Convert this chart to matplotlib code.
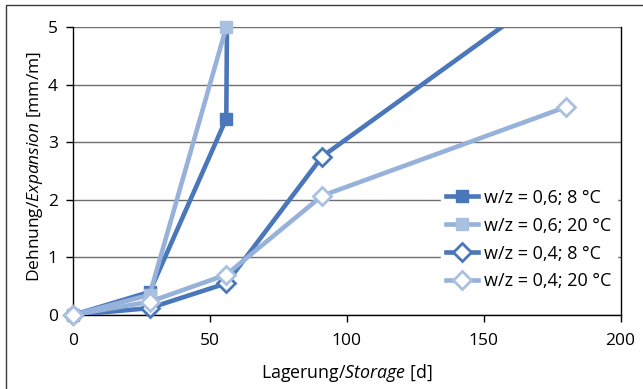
import matplotlib
matplotlib.use("Agg")
import matplotlib.pyplot as plt
from matplotlib.patches import Rectangle
import numpy as np

plt.rcParams['font.family'] = ['Open Sans', 'DejaVu Sans']
plt.rcParams['mathtext.fontset'] = 'custom'
plt.rcParams['mathtext.rm'] = 'Open Sans'
plt.rcParams['mathtext.it'] = 'Open Sans:italic'

# data
days_w06_8 = [0, 28, 56, 57]
exp_w06_8 = [0, 0.40, 3.41, 10.0]
days_w06_20 = [0, 28, 56]
exp_w06_20 = [0, 0.35, 5.0]
days_w04_8 = [0, 28, 56, 91, 180]
exp_w04_8 = [0, 0.12, 0.55, 2.75, 5.80]
days_w04_20 = [0, 28, 56, 91, 180]
exp_w04_20 = [0, 0.23, 0.70, 2.07, 3.61]

labels = ['w/z = 0,6; 8 °C', 'w/z = 0,6; 20 °C', 'w/z = 0,4; 8 °C', 'w/z = 0,4; 20 °C']
x_ticks = [0, 50, 100, 150, 200]
y_ticks = [0, 1, 2, 3, 4, 5]

dark = '#4A77B9'
light = '#97B2DA'
light_sq = '#A9C0E0'

fig = plt.figure(figsize=(6.43, 3.89), dpi=100)
ax = fig.add_axes([73/643, 1-315/389, (620.5-73)/643, (315-27)/389])

series = [
    (days_w06_8, exp_w06_8, dark, 's', dark, dark),
    (days_w06_20, exp_w06_20, light, 's', light_sq, light_sq),
    (days_w04_8, exp_w04_8, dark, 'D', 'white', dark),
    (days_w04_20, exp_w04_20, light, 'D', 'white', light_sq),
]

handles = []
for i, (xs, ys, col, mk, mfc, mec) in enumerate(series):
    xs = np.array(xs); ys = np.array(ys)
    z = 3 + i
    ax.plot(xs, ys, color=col, lw=3.3, zorder=z, clip_on=True, solid_capstyle='butt')
    m = ys <= 5.0
    ms = 8.5 if mk == 's' else 9.3
    mew = 2 if mk == 'D' else 1
    ax.plot(xs[m], ys[m], ls='none', marker=mk, ms=ms, mfc=mfc, mec=mec,
            mew=mew, zorder=z + 0.5, clip_on=False)
    h, = ax.plot([], [], color=col, lw=3.3, marker=mk, ms=ms, mfc=mfc, mec=mec,
                 mew=mew, label=labels[i])
    handles.append(h)

ax.set_xlim(0, 200)
ax.set_ylim(0, 5)
ax.set_xticks(x_ticks)
ax.set_yticks(y_ticks)
ax.tick_params(axis='both', direction='out', length=5, width=1, color='black',
               labelsize=12.5)
ax.tick_params(axis='x', pad=8)
ax.tick_params(axis='y', pad=6)
ax.yaxis.grid(True, color='#6e6e6e', lw=1)
ax.set_axisbelow(True)
ax.spines['top'].set_visible(False)
for s in ['left', 'bottom', 'right']:
    ax.spines[s].set_color('black')
    ax.spines[s].set_linewidth(1)

ax.set_xlabel('Lagerung/$\\mathit{Storage}$ [d]', fontsize=12.8, labelpad=9)
ax.set_ylabel('Dehnung/$\\mathit{Expansion}$ [mm/m]', fontsize=12.5)
ax.yaxis.set_label_coords(-0.051, 0.517)

leg = ax.legend(handles=handles, loc='center left', bbox_to_anchor=(0.655, 0.262),
                frameon=True, facecolor='white', edgecolor='white', framealpha=1,
                fontsize=13, handlelength=1.75, handletextpad=0.35, labelspacing=0.55,
                borderpad=0.3, fancybox=False)

fig.add_artist(Rectangle((6/643, -0.05), 1.0, (389-5)/389 + 0.05, transform=fig.transFigure,
                         fill=False, edgecolor='#3a3a3a', lw=1))

fig.savefig('out.png', dpi=100)
